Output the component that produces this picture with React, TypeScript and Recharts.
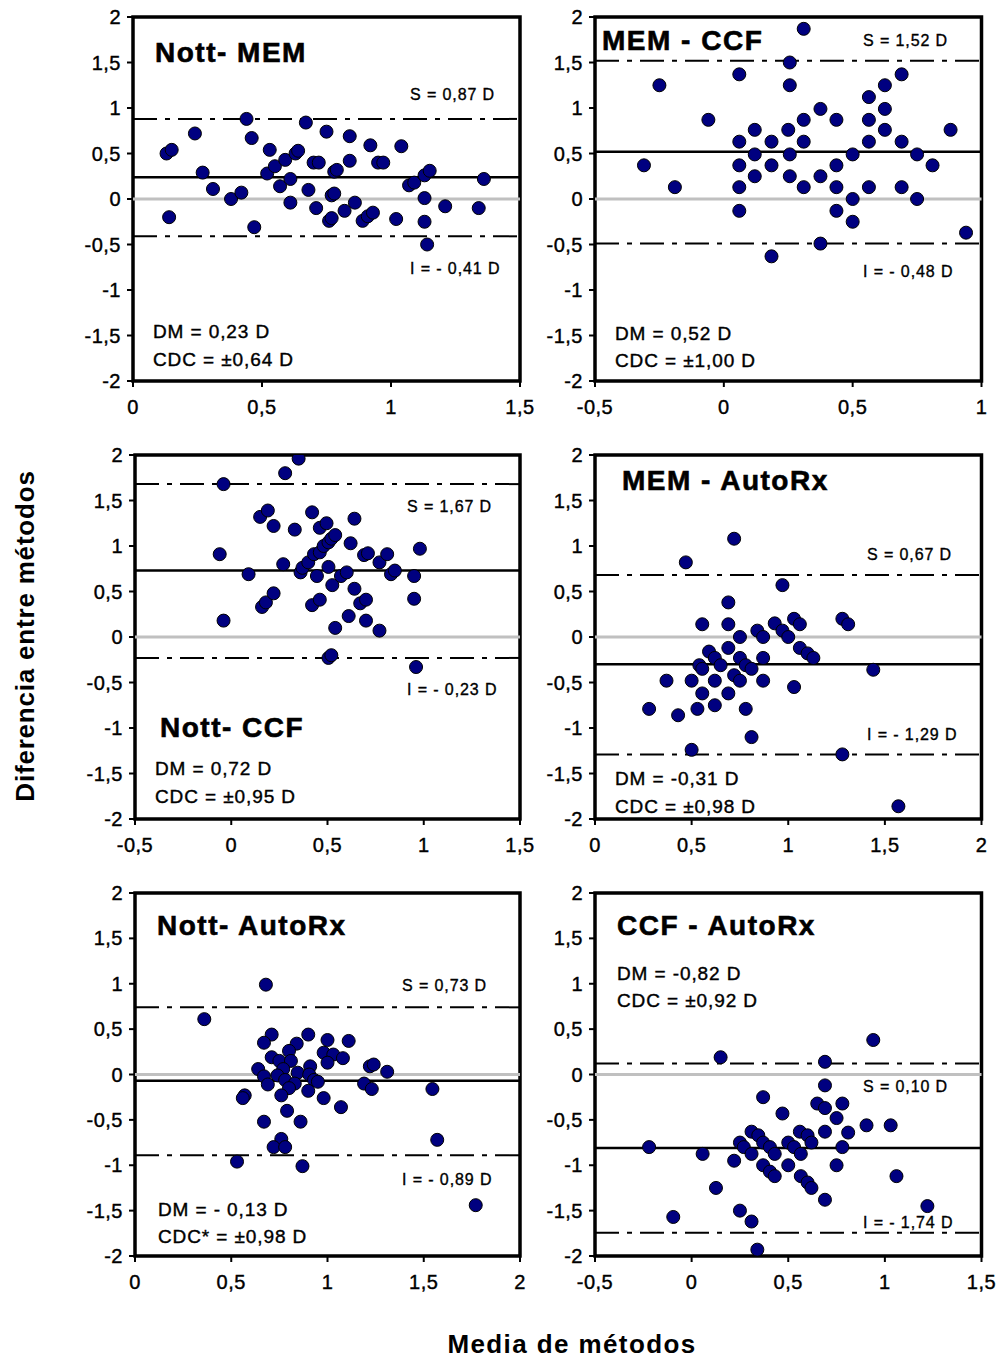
import React from "react";
import { ScatterChart, Scatter, XAxis, YAxis, ReferenceLine, ReferenceArea } from "recharts";

const FONT = '"Liberation Sans", Arial, sans-serif';

// [media, diferencia]
const nottMem: [number, number][] = [
  [0.13, 0.5], [0.15, 0.54], [0.14, -0.2], [0.24, 0.72], [0.27, 0.29], [0.31, 0.11], [0.38, 0.0],
  [0.42, 0.07], [0.44, 0.88], [0.46, 0.67], [0.47, -0.31], [0.53, 0.54], [0.52, 0.28], [0.55, 0.36],
  [0.57, 0.14], [0.59, 0.43], [0.61, 0.22], [0.61, -0.04], [0.63, 0.5], [0.64, 0.53], [0.67, 0.84],
  [0.68, 0.1], [0.7, 0.4], [0.72, 0.4], [0.71, -0.1], [0.75, 0.74], [0.76, -0.24], [0.77, -0.21],
  [0.78, 0.3], [0.79, 0.32], [0.77, 0.04], [0.78, 0.06], [0.82, -0.13], [0.84, 0.69], [0.84, 0.42],
  [0.86, -0.04], [0.89, -0.24], [0.91, -0.19], [0.93, -0.15], [0.92, 0.59], [0.95, 0.4], [0.97, 0.4],
  [1.02, -0.22], [1.04, 0.58], [1.07, 0.15], [1.09, 0.18], [1.13, 0.26], [1.15, 0.31], [1.13, 0.01],
  [1.13, -0.25], [1.14, -0.5], [1.21, -0.08], [1.34, -0.1], [1.36, 0.22],
];

const memCcf: [number, number][] = [
  [-0.31, 0.37], [-0.25, 1.25], [-0.19, 0.13], [-0.06, 0.87], [0.06, 1.37], [0.06, 0.63], [0.06, 0.37],
  [0.06, 0.13], [0.06, -0.13], [0.12, 0.76], [0.12, 0.49], [0.12, 0.25], [0.185, 0.63], [0.185, 0.37],
  [0.185, -0.63], [0.256, 1.5], [0.256, 1.25], [0.25, 0.76], [0.256, 0.49], [0.256, 0.25], [0.31, 1.87],
  [0.31, 0.87], [0.31, 0.63], [0.31, 0.13], [0.375, 0.99], [0.375, 0.25], [0.375, -0.49], [0.437, 0.87],
  [0.437, 0.37], [0.437, 0.13], [0.437, -0.13], [0.5, 0.49], [0.5, 0.0], [0.5, -0.25], [0.563, 1.12],
  [0.563, 0.87], [0.563, 0.63], [0.563, 0.13], [0.625, 1.25], [0.625, 0.99], [0.625, 0.76], [0.69, 1.37],
  [0.69, 0.63], [0.69, 0.13], [0.75, 0.49], [0.75, 0.0], [0.81, 0.37], [0.88, 0.76], [0.94, -0.37],
];

const nottCcf: [number, number][] = [
  [0.35, 1.96], [0.28, 1.8], [-0.04, 1.68], [-0.06, 0.91], [-0.04, 0.18], [0.09, 0.69], [0.15, 1.32],
  [0.19, 1.39], [0.22, 1.22], [0.16, 0.33], [0.18, 0.38], [0.22, 0.48], [0.27, 0.8], [0.33, 1.18],
  [0.36, 0.71], [0.37, 0.76], [0.4, 0.82], [0.42, 1.37], [0.42, 0.35], [0.43, 0.91], [0.445, 0.67],
  [0.46, 0.41], [0.46, 1.2], [0.495, 1.25], [0.46, 0.93], [0.48, 1.0], [0.505, 1.04], [0.52, 1.08],
  [0.54, 1.12], [0.505, 0.77], [0.525, 0.57], [0.505, -0.23], [0.52, -0.2], [0.54, 0.1], [0.57, 0.67],
  [0.6, 0.71], [0.61, 0.23], [0.62, 1.03], [0.64, 0.53], [0.64, 1.3], [0.67, 0.37], [0.7, 0.41],
  [0.7, 0.18], [0.69, 0.9], [0.71, 0.92], [0.77, 0.82], [0.77, 0.07], [0.81, 0.91], [0.83, 0.69],
  [0.85, 0.73], [0.95, 0.67], [0.95, 0.42], [0.96, -0.33], [0.98, 0.97],
];

const memAutoRx: [number, number][] = [
  [0.72, 1.08], [0.47, 0.82], [0.97, 0.57], [0.69, 0.38], [0.555, 0.14], [0.69, 0.14], [0.75, 0.0],
  [0.84, 0.07], [0.87, 0.0], [0.93, 0.15], [0.97, 0.07], [1.0, 0.0], [1.03, 0.2], [1.06, 0.14],
  [1.28, 0.2], [1.31, 0.14], [0.69, -0.12], [0.59, -0.16], [0.62, -0.23], [0.65, -0.31], [0.75, -0.23],
  [0.78, -0.31], [0.81, -0.35], [0.87, -0.23], [1.06, -0.12], [1.1, -0.18], [1.13, -0.23], [0.54, -0.31],
  [0.555, -0.35], [0.37, -0.48], [0.5, -0.48], [0.62, -0.48], [0.72, -0.42], [0.75, -0.48], [0.87, -0.48],
  [0.555, -0.62], [0.69, -0.62], [1.03, -0.55], [1.44, -0.36], [0.28, -0.79], [0.43, -0.86], [0.53, -0.79],
  [0.62, -0.75], [0.78, -0.79], [0.81, -1.1], [0.5, -1.24], [1.28, -1.29], [1.57, -1.86],
];

const nottAutoRx: [number, number][] = [
  [0.68, 0.99], [0.36, 0.61], [0.71, 0.44], [0.67, 0.35], [0.9, 0.44], [0.84, 0.34], [1.0, 0.38],
  [1.11, 0.37], [0.8, 0.26], [0.71, 0.19], [0.75, 0.15], [0.81, 0.15], [0.98, 0.24], [1.03, 0.22],
  [1.08, 0.18], [1.0, 0.13], [0.91, 0.09], [0.64, 0.06], [0.77, 0.06], [1.22, 0.09], [1.24, 0.11],
  [1.31, 0.03], [0.845, 0.02], [0.74, -0.01], [0.905, 0.0], [0.67, -0.02], [0.78, -0.06], [0.93, -0.06],
  [0.95, -0.08], [0.69, -0.11], [0.83, -0.1], [0.8, -0.15], [1.19, -0.1], [1.23, -0.16], [0.9, -0.18],
  [1.545, -0.16], [0.76, -0.23], [0.57, -0.23], [0.56, -0.26], [0.98, -0.26], [1.07, -0.36], [0.79, -0.4],
  [0.67, -0.52], [0.86, -0.52], [0.76, -0.71], [0.72, -0.8], [0.78, -0.8], [1.57, -0.72], [0.53, -0.96],
  [0.87, -1.01], [1.77, -1.44],
];

const ccfAutoRx: [number, number][] = [
  [0.94, 0.38], [0.15, 0.19], [0.69, 0.14], [0.69, -0.12], [0.37, -0.25], [0.65, -0.32], [0.69, -0.37],
  [0.78, -0.32], [0.47, -0.43], [0.75, -0.48], [0.905, -0.56], [1.03, -0.56], [0.31, -0.63], [0.345, -0.67],
  [0.56, -0.63], [0.6, -0.67], [0.69, -0.63], [0.81, -0.64], [0.37, -0.75], [0.405, -0.8], [0.43, -0.875],
  [0.62, -0.75], [0.5, -0.75], [0.53, -0.8], [0.25, -0.75], [0.27, -0.8], [0.31, -0.875], [0.565, -0.875],
  [0.78, -0.8], [-0.22, -0.8], [0.057, -0.875], [0.22, -0.95], [0.37, -1.0], [0.405, -1.07], [0.43, -1.12],
  [0.5, -1.0], [0.75, -1.0], [0.565, -1.12], [0.6, -1.19], [0.62, -1.25], [0.69, -1.38], [1.06, -1.12],
  [0.126, -1.25], [0.25, -1.5], [0.31, -1.62], [1.22, -1.45], [-0.095, -1.57], [0.34, -1.93],
];

const yTicks = [-2, -1.5, -1, -0.5, 0, 0.5, 1, 1.5, 2];
const ticksA = [0, 0.5, 1, 1.5];
const ticksB = [-0.5, 0, 0.5, 1];
const ticksC = [-0.5, 0, 0.5, 1, 1.5];
const ticksD = [0, 0.5, 1, 1.5, 2];

// drawn line levels: mean, upper limit (S), lower limit (I)
const meanLines = [0.24, 0.52, 0.73, -0.3, -0.07, -0.81];
const upperLines = [0.88, 1.52, 1.68, 0.68, 0.74, 0.12];
const lowerLines = [-0.41, -0.49, -0.23, -1.29, -0.89, -1.745];

const panels = [
  { data: nottMem, xTicks: ticksA, left: 133, top: 16.5, w: 387, h: 364 },
  { data: memCcf, xTicks: ticksB, left: 594.5, top: 16.5, w: 386.5, h: 364 },
  { data: nottCcf, xTicks: ticksC, left: 135, top: 455, w: 385, h: 364 },
  { data: memAutoRx, xTicks: ticksD, left: 594.5, top: 455, w: 386.5, h: 364 },
  { data: nottAutoRx, xTicks: ticksD, left: 135, top: 893, w: 385, h: 363 },
  { data: ccfAutoRx, xTicks: ticksC, left: 594.5, top: 893, w: 386.5, h: 363 },
];

// annotations: [text, x, baseline, kind]
const notes: [string, number, number, string][] = [
  ["Nott- MEM", 155, 62, "title"],
  ["S = 0,87 D", 410, 100, "small"],
  ["I = - 0,41 D", 410, 274, "small"],
  ["DM = 0,23 D", 153, 338, "stat"],
  ["CDC = ±0,64 D", 153, 366, "stat"],
  ["MEM - CCF", 602, 50, "title"],
  ["S = 1,52 D", 863, 46, "small"],
  ["I = - 0,48 D", 863, 277, "small"],
  ["DM = 0,52 D", 615, 340, "stat"],
  ["CDC = ±1,00 D", 615, 367, "stat"],
  ["S = 1,67 D", 407, 512, "small"],
  ["I = - 0,23 D", 407, 695, "small"],
  ["Nott- CCF", 160, 737, "title"],
  ["DM = 0,72 D", 155, 775, "stat"],
  ["CDC = ±0,95 D", 155, 803, "stat"],
  ["MEM - AutoRx", 622, 490, "title"],
  ["S = 0,67 D", 867, 560, "small"],
  ["I = - 1,29 D", 867, 740, "small"],
  ["DM = -0,31 D", 615, 785, "stat"],
  ["CDC = ±0,98 D", 615, 813, "stat"],
  ["Nott- AutoRx", 157, 935, "title"],
  ["S = 0,73 D", 402, 991, "small"],
  ["I = - 0,89 D", 402, 1185, "small"],
  ["DM = - 0,13 D", 158, 1216, "stat"],
  ["CDC* = ±0,98 D", 158, 1243, "stat"],
  ["CCF - AutoRx", 617, 935, "title"],
  ["DM = -0,82 D", 617, 980, "stat"],
  ["CDC = ±0,92 D", 617, 1007, "stat"],
  ["S = 0,10 D", 863, 1092, "small"],
  ["I = - 1,74 D", 863, 1228, "small"],
];

const noteStyle: Record<string, any> = {
  title: { fontSize: 28, fontWeight: 700, letterSpacing: 1.5, stroke: "#000", strokeWidth: 0.6 },
  small: { fontSize: 16, fontWeight: 400, letterSpacing: 0.9, stroke: "#000", strokeWidth: 0.35 },
  stat: { fontSize: 19, fontWeight: 400, letterSpacing: 0.9, stroke: "#000", strokeWidth: 0.4 },
};

const fmt = (v: number) => String(v).replace(".", ",");

const Dot = (props: any) => (
  <circle cx={props.cx} cy={props.cy} r={6.5} fill="#000080" stroke="#000" strokeWidth={1} />
);

const YW = 60;
const XH = 45;
const RM = 30;

function Panel({ p, i }: { p: any; i: number }) {
  const xMin = p.xTicks[0];
  const xMax = p.xTicks[p.xTicks.length - 1];
  const rows = p.data.map((d: [number, number]) => ({ x: d[0], y: d[1] }));
  const tickStyle = {
    fontSize: 20,
    fill: "#000",
    fontFamily: FONT,
    letterSpacing: 0.5,
    stroke: "#000",
    strokeWidth: 0.4,
  };
  return (
    <div style={{ position: "absolute", left: p.left - YW, top: p.top - 10 }}>
      <ScatterChart
        width={YW + p.w + RM}
        height={10 + p.h + XH}
        margin={{ top: 10, right: RM, bottom: 0, left: 0 }}
      >
        <XAxis
          type="number"
          dataKey="x"
          domain={[xMin, xMax]}
          ticks={p.xTicks}
          interval={0}
          allowDataOverflow
          height={XH}
          axisLine={false}
          tickLine={{ stroke: "#000", strokeWidth: 2 }}
          tickSize={6}
          tickMargin={13}
          tick={tickStyle}
          tickFormatter={fmt}
        />
        <YAxis
          type="number"
          dataKey="y"
          domain={[-2, 2]}
          ticks={yTicks}
          interval={0}
          allowDataOverflow
          width={YW}
          axisLine={false}
          tickLine={{ stroke: "#000", strokeWidth: 2 }}
          tickSize={6}
          tickMargin={6}
          tick={tickStyle}
          tickFormatter={fmt}
        />
        <ReferenceLine y={0} stroke="#c0c0c0" strokeWidth={3} />
        <ReferenceLine y={meanLines[i]} stroke="#000" strokeWidth={2.5} />
        <ReferenceLine y={upperLines[i]} stroke="#000" strokeWidth={2} strokeDasharray="24 8 5 8" />
        <ReferenceLine y={lowerLines[i]} stroke="#000" strokeWidth={2} strokeDasharray="24 8 5 8" />
        <Scatter data={rows} shape={Dot} isAnimationActive={false} />
        <ReferenceArea
          x1={xMin}
          x2={xMax}
          y1={-2}
          y2={2}
          fill="none"
          fillOpacity={0}
          stroke="#000"
          strokeWidth={3.5}
          ifOverflow="visible"
        />
      </ScatterChart>
    </div>
  );
}

export default function App() {
  return (
    <div
      style={{
        position: "absolute",
        left: 0,
        top: 0,
        width: 999,
        height: 1360,
        background: "#fff",
        fontFamily: FONT,
      }}
    >
      {panels.map((p, i) => (
        <Panel key={i} p={p} i={i} />
      ))}
      <svg
        width={999}
        height={1360}
        style={{ position: "absolute", left: 0, top: 0, pointerEvents: "none" }}
      >
        {notes.map(([t, x, y, k], j) => (
          <text key={j} x={x} y={y} fontFamily={FONT} fill="#000" {...noteStyle[k]}>
            {t}
          </text>
        ))}
        <text
          x={34}
          y={636}
          transform="rotate(-90 34 636)"
          textAnchor="middle"
          fontFamily={FONT}
          fontSize={26}
          fontWeight={700}
          letterSpacing={0.8}
        >
          Diferencia entre métodos
        </text>
        <text
          x={572}
          y={1353}
          textAnchor="middle"
          fontFamily={FONT}
          fontSize={26}
          fontWeight={700}
          letterSpacing={1.4}
        >
          Media de métodos
        </text>
      </svg>
    </div>
  );
}
